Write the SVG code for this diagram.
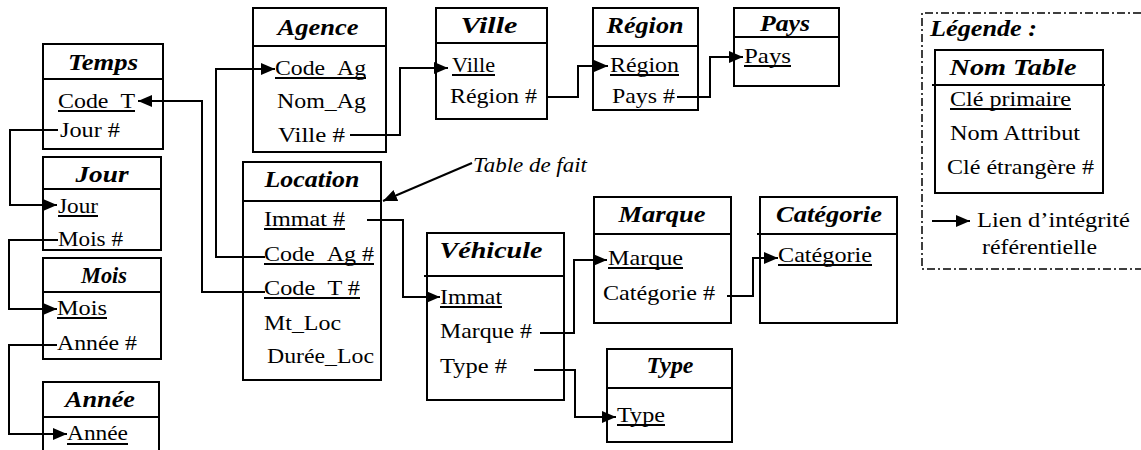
<svg xmlns="http://www.w3.org/2000/svg" width="1141" height="450" viewBox="0 0 1141 450">
<style>
.bx{fill:#fff;stroke:#000;stroke-width:2}
.sp{stroke:#000;stroke-width:2}
.ul{stroke:#000;stroke-width:1.8}
.t{font-family:'Liberation Serif',serif;font-size:23px;font-weight:bold;font-style:italic;text-anchor:middle;fill:#000}
.a{font-family:'Liberation Serif',serif;font-size:22px;fill:#000}
.lg{font-family:'Liberation Serif',serif;font-size:23px;font-weight:bold;font-style:italic;fill:#000}
.it{font-family:'Liberation Serif',serif;font-size:20px;font-style:italic;fill:#000}
.c{fill:none;stroke:#000;stroke-width:2;marker-end:url(#ah)}
</style>
<defs>
<marker id="ah" markerUnits="userSpaceOnUse" markerWidth="14" markerHeight="12" refX="14" refY="6" orient="auto"><path d="M0,0 L14,6 L0,12 z" fill="#000"/></marker>
</defs>
<rect width="1141" height="450" fill="#fff"/>

<g id="temps">
<rect class="bx" x="43" y="44" width="120" height="105"/>
<line class="sp" x1="43" y1="79" x2="163" y2="79"/>
<text class="t" x="103" y="70" textLength="70" lengthAdjust="spacingAndGlyphs">Temps</text>
<text class="a" x="58" y="108" textLength="77" lengthAdjust="spacingAndGlyphs">Code_T</text>
<line class="ul" x1="58" y1="111" x2="135" y2="111"/>
<text class="a" x="60" y="137" textLength="60" lengthAdjust="spacingAndGlyphs">Jour #</text>
</g>

<g id="jour">
<rect class="bx" x="43" y="157" width="118" height="93"/>
<line class="sp" x1="43" y1="189" x2="161" y2="189"/>
<text class="t" x="102" y="182" textLength="53" lengthAdjust="spacingAndGlyphs">Jour</text>
<text class="a" x="58" y="213" textLength="40" lengthAdjust="spacingAndGlyphs">Jour</text>
<line class="ul" x1="58" y1="216" x2="98" y2="216"/>
<text class="a" x="58" y="246" textLength="65" lengthAdjust="spacingAndGlyphs">Mois #</text>
</g>

<g id="mois">
<rect class="bx" x="43" y="258" width="118" height="101"/>
<line class="sp" x1="43" y1="292" x2="161" y2="292"/>
<text class="t" x="104" y="283" textLength="46" lengthAdjust="spacingAndGlyphs">Mois</text>
<text class="a" x="57" y="315" textLength="50" lengthAdjust="spacingAndGlyphs">Mois</text>
<line class="ul" x1="57" y1="318" x2="107" y2="318"/>
<text class="a" x="57" y="350" textLength="80" lengthAdjust="spacingAndGlyphs">Année #</text>
</g>

<g id="annee">
<rect class="bx" x="43" y="382" width="116" height="80"/>
<line class="sp" x1="43" y1="417" x2="159" y2="417"/>
<text class="t" x="100" y="407" textLength="70" lengthAdjust="spacingAndGlyphs">Année</text>
<text class="a" x="67" y="440" textLength="61" lengthAdjust="spacingAndGlyphs">Année</text>
<line class="ul" x1="67" y1="444" x2="128" y2="444"/>
</g>

<g id="agence">
<rect class="bx" x="253" y="8" width="133" height="144"/>
<line class="sp" x1="253" y1="46" x2="386" y2="46"/>
<text class="t" x="318" y="35" textLength="81" lengthAdjust="spacingAndGlyphs">Agence</text>
<text class="a" x="275" y="75" textLength="91" lengthAdjust="spacingAndGlyphs">Code_Ag</text>
<line class="ul" x1="275" y1="78" x2="366" y2="78"/>
<text class="a" x="277" y="108" textLength="89" lengthAdjust="spacingAndGlyphs">Nom_Ag</text>
<text class="a" x="278" y="142" textLength="67" lengthAdjust="spacingAndGlyphs">Ville #</text>
</g>

<g id="ville">
<rect class="bx" x="436" y="8" width="111" height="111"/>
<line class="sp" x1="436" y1="43" x2="547" y2="43"/>
<text class="t" x="489" y="33" textLength="57" lengthAdjust="spacingAndGlyphs">Ville</text>
<text class="a" x="452" y="72" textLength="43" lengthAdjust="spacingAndGlyphs">Ville</text>
<line class="ul" x1="452" y1="75" x2="495" y2="75"/>
<text class="a" x="450" y="103" textLength="87" lengthAdjust="spacingAndGlyphs">Région #</text>
</g>

<g id="region">
<rect class="bx" x="593" y="8" width="105" height="102"/>
<line class="sp" x1="593" y1="46" x2="698" y2="46"/>
<text class="t" x="645" y="33" textLength="77" lengthAdjust="spacingAndGlyphs">Région</text>
<text class="a" x="610" y="72" textLength="69" lengthAdjust="spacingAndGlyphs">Région</text>
<line class="ul" x1="610" y1="75" x2="679" y2="75"/>
<text class="a" x="612" y="103" textLength="63" lengthAdjust="spacingAndGlyphs">Pays #</text>
</g>

<g id="pays">
<rect class="bx" x="734" y="8" width="105" height="78"/>
<line class="sp" x1="734" y1="37" x2="839" y2="37"/>
<text class="t" x="785" y="31" textLength="50" lengthAdjust="spacingAndGlyphs">Pays</text>
<text class="a" x="744" y="63" textLength="47" lengthAdjust="spacingAndGlyphs">Pays</text>
<line class="ul" x1="744" y1="66" x2="791" y2="66"/>
</g>

<g id="location">
<rect class="bx" x="243" y="162" width="138" height="218"/>
<line class="sp" x1="243" y1="201" x2="381" y2="201"/>
<text class="t" x="312" y="187" textLength="95" lengthAdjust="spacingAndGlyphs">Location</text>
<text class="a" x="264" y="226" textLength="81" lengthAdjust="spacingAndGlyphs">Immat #</text>
<line class="ul" x1="264" y1="229" x2="345" y2="229"/>
<text class="a" x="264" y="261" textLength="110" lengthAdjust="spacingAndGlyphs">Code_Ag #</text>
<line class="ul" x1="264" y1="264" x2="374" y2="264"/>
<text class="a" x="264" y="295" textLength="96" lengthAdjust="spacingAndGlyphs">Code_T #</text>
<line class="ul" x1="264" y1="298" x2="360" y2="298"/>
<text class="a" x="264" y="330" textLength="77" lengthAdjust="spacingAndGlyphs">Mt_Loc</text>
<text class="a" x="267" y="363" textLength="107" lengthAdjust="spacingAndGlyphs">Durée_Loc</text>
</g>

<g id="table-de-fait">
<text class="it" x="473" y="172" textLength="114" lengthAdjust="spacingAndGlyphs">Table de fait</text>
</g>

<g id="vehicule">
<rect class="bx" x="427" y="233" width="137" height="167"/>
<line class="sp" x1="424" y1="276" x2="564" y2="276"/>
<text class="t" x="491" y="258" textLength="103" lengthAdjust="spacingAndGlyphs">Véhicule</text>
<text class="a" x="440" y="304" textLength="62" lengthAdjust="spacingAndGlyphs">Immat</text>
<line class="ul" x1="440" y1="307" x2="502" y2="307"/>
<text class="a" x="440" y="338" textLength="92" lengthAdjust="spacingAndGlyphs">Marque #</text>
<text class="a" x="440" y="373" textLength="67" lengthAdjust="spacingAndGlyphs">Type #</text>
</g>

<g id="marque">
<rect class="bx" x="594" y="197" width="137" height="126"/>
<line class="sp" x1="594" y1="234" x2="731" y2="234"/>
<text class="t" x="662" y="222" textLength="87" lengthAdjust="spacingAndGlyphs">Marque</text>
<text class="a" x="608" y="265" textLength="75" lengthAdjust="spacingAndGlyphs">Marque</text>
<line class="ul" x1="608" y1="268" x2="683" y2="268"/>
<text class="a" x="603" y="300" textLength="112" lengthAdjust="spacingAndGlyphs">Catégorie #</text>
</g>

<g id="categorie">
<rect class="bx" x="760" y="197" width="137" height="126"/>
<line class="sp" x1="757" y1="234" x2="897" y2="234"/>
<text class="t" x="829" y="222" textLength="106" lengthAdjust="spacingAndGlyphs">Catégorie</text>
<text class="a" x="778" y="262" textLength="94" lengthAdjust="spacingAndGlyphs">Catégorie</text>
<line class="ul" x1="778" y1="265" x2="872" y2="265"/>
</g>

<g id="type">
<rect class="bx" x="607" y="349" width="125" height="93"/>
<line class="sp" x1="607" y1="388" x2="732" y2="388"/>
<text class="t" x="670" y="373" textLength="47" lengthAdjust="spacingAndGlyphs">Type</text>
<text class="a" x="617" y="422" textLength="48" lengthAdjust="spacingAndGlyphs">Type</text>
<line class="ul" x1="617" y1="425" x2="665" y2="425"/>
</g>

<g id="legende">
<path d="M1141,13 H922 V269 H1141" fill="none" stroke="#000" stroke-width="1.5" stroke-dasharray="8,3,2,3"/>
<text class="lg" x="930" y="36" textLength="107" lengthAdjust="spacingAndGlyphs">Légende :</text>
<rect class="bx" x="935" y="50" width="168" height="143"/>
<line class="sp" x1="932" y1="85" x2="1105" y2="85"/>
<text class="t" x="1013" y="75" textLength="127" lengthAdjust="spacingAndGlyphs">Nom Table</text>
<text class="a" x="950" y="106" textLength="121" lengthAdjust="spacingAndGlyphs">Clé primaire</text>
<line class="ul" x1="950" y1="109" x2="1071" y2="109"/>
<text class="a" x="950" y="140" textLength="130" lengthAdjust="spacingAndGlyphs">Nom Attribut</text>
<text class="a" x="947" y="174" textLength="147" lengthAdjust="spacingAndGlyphs">Clé étrangère #</text>
<line class="c" x1="932" y1="221" x2="970" y2="221"/>
<text class="a" x="977" y="227" textLength="153" lengthAdjust="spacingAndGlyphs">Lien d’intégrité</text>
<text class="a" x="982" y="254" textLength="115" lengthAdjust="spacingAndGlyphs">référentielle</text>
</g>

<g id="connectors">
<path class="c" d="M58,130 H10 V205 H57"/>
<path class="c" d="M58,240 H9 V309 H57"/>
<path class="c" d="M57,345 H9 V434 H67"/>
<path class="c" d="M265,292 H202 V101 H138"/>
<path class="c" d="M265,257 H216 V69 H275"/>
<path class="c" d="M350,135 H400 V68 H448"/>
<path class="c" d="M547,97 H578 V66 H608"/>
<path class="c" d="M677,97 H710 V57 H743"/>
<path class="c" d="M472,163 L383,201"/>
<path class="c" d="M367,220 H403 V297 H440"/>
<path class="c" d="M540,333 H574 V260 H607"/>
<path class="c" d="M727,296 H753 V258 H778"/>
<path class="c" d="M534,370 H575 V417 H616"/>
</g>
</svg>
